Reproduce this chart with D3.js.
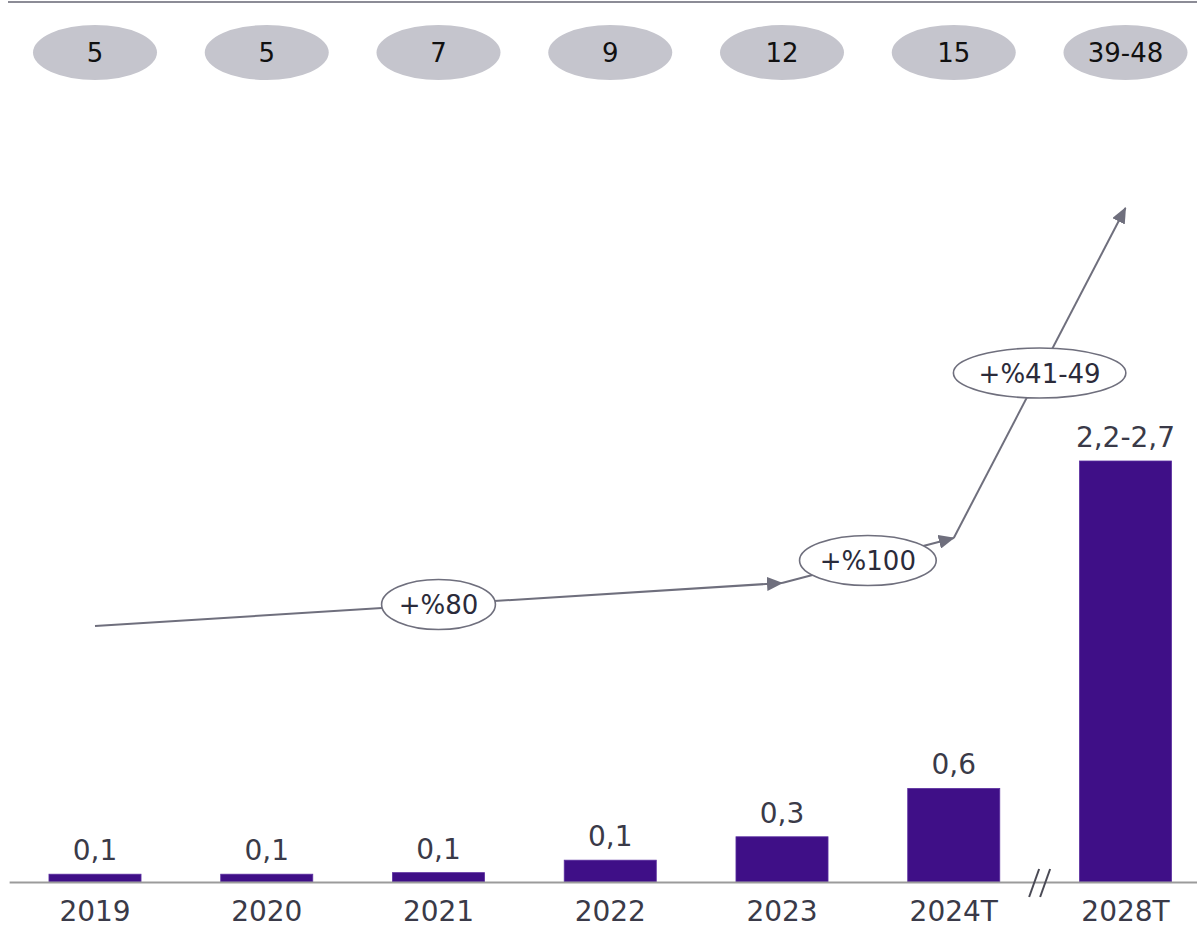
<!DOCTYPE html>
<html>
<head>
<meta charset="utf-8">
<script src="https://cdn.jsdelivr.net/npm/d3@7/dist/d3.min.js"></script>
<style>
  html, body { margin: 0; padding: 0; background: #ffffff; }
  svg { display: block; }
</style>
</head>
<body>
<svg id="chart" width="1197" height="927"></svg>
<script>
// ---- data ----
const categories = ["2019", "2020", "2021", "2022", "2023", "2024T", "2028T"];
// bar heights (2028T is a forecast range; the bar reaches the upper bound)
const barValues = [0.05, 0.05, 0.06, 0.14, 0.29, 0.6, 2.7];
const rangeLow = [null, null, null, null, null, null, 2.2];
// counts shown in the grey pills above each year
const topCounts = ["5", "5", "7", "9", "12", "15", "39-48"];
// growth callouts along the trend arrow
const growthLabels = ["+%80", "+%100", "+%41-49"];
const trendStops = ["2019", "2023", "2024T", "2028T"];

// ---- layout ----
const W = 1197, H = 927;
const baseY = 882, topBarY = 461;
const trendY = [626, 583, 538, 208];      // vertical placement of the trend arrow stops
const colors = {
  bar: "#3f0f87",
  barEdge: "#5b2fa0",
  pill: "#c5c5cd",
  rule: "#8c8c96",
  axis: "#9b9b9b",
  text: "#3a3a48",
  trend: "#6f6f7d"
};
const font = "'DejaVu Sans', Verdana, sans-serif";

const svg = d3.select("#chart");

const step = 171.75;
const x = d3.scaleBand()
  .domain(categories)
  .range([95 - step / 2, 95 + step * (categories.length - 0.5)])
  .paddingInner(0.464)
  .paddingOuter(0.232);
const cx = c => x(c) + x.bandwidth() / 2;

const y = d3.scaleLinear()
  .domain([0, d3.max(barValues)])
  .range([baseY, topBarY]);

const fmt = d3.formatLocale({ decimal: ",", thousands: ".", grouping: [3], currency: ["", ""] }).format(".1f");

// top rule
svg.append("line")
  .attr("x1", 8).attr("x2", W)
  .attr("y1", 2).attr("y2", 2)
  .attr("stroke", colors.rule).attr("stroke-width", 2);

// grey pills with counts
const pills = svg.append("g").selectAll("g")
  .data(categories)
  .join("g")
  .attr("transform", d => `translate(${cx(d)},52.5)`);
pills.append("ellipse")
  .attr("rx", 62).attr("ry", 27.5)
  .attr("fill", colors.pill);
pills.append("text")
  .attr("text-anchor", "middle")
  .attr("y", 9.5)
  .attr("font-family", font)
  .attr("font-size", 26)
  .attr("fill", "#111111")
  .text((d, i) => topCounts[i]);

// bars
svg.append("g").selectAll("rect")
  .data(categories)
  .join("rect")
  .attr("x", d => x(d))
  .attr("width", x.bandwidth())
  .attr("y", (d, i) => y(barValues[i]))
  .attr("height", (d, i) => y(0) - y(barValues[i]))
  .attr("fill", colors.bar)
  .attr("stroke", colors.barEdge)
  .attr("stroke-width", 0.8);

// value labels
svg.append("g").selectAll("text")
  .data(categories)
  .join("text")
  .attr("x", d => cx(d))
  .attr("y", (d, i) => y(barValues[i]) - 14)
  .attr("text-anchor", "middle")
  .attr("font-family", font)
  .attr("font-size", 28)
  .attr("fill", colors.text)
  .text((d, i) => rangeLow[i] != null
    ? `${fmt(rangeLow[i])}-${fmt(barValues[i])}`
    : fmt(barValues[i]));

// x axis
const axis = svg.append("g")
  .attr("transform", `translate(0,${baseY})`)
  .call(d3.axisBottom(x).tickSize(0).tickSizeOuter(0));
axis.select(".domain")
  .attr("stroke", colors.axis)
  .attr("stroke-width", 2);
axis.selectAll("text")
  .attr("y", 39)
  .attr("dy", 0)
  .attr("font-family", font)
  .attr("font-size", 28)
  .attr("fill", colors.text);

// axis break between the last two years
const breakX = (x("2024T") + x.bandwidth() + x("2028T")) / 2;
svg.append("g").selectAll("line")
  .data([-5.5, 5.5])
  .join("line")
  .attr("x1", d => breakX + d - 5)
  .attr("x2", d => breakX + d + 5)
  .attr("y1", baseY + 15)
  .attr("y2", baseY - 13)
  .attr("stroke", "#4a4a55")
  .attr("stroke-width", 2);

// trend arrow
const defs = svg.append("defs");
defs.append("marker")
  .attr("id", "arrowhead")
  .attr("markerUnits", "userSpaceOnUse")
  .attr("viewBox", "0 0 16 14")
  .attr("markerWidth", 16).attr("markerHeight", 14)
  .attr("refX", 15).attr("refY", 7)
  .attr("orient", "auto")
  .append("path")
  .attr("d", "M0,0L16,7L0,14Z")
  .attr("fill", colors.trend);

const stops = trendStops.map((c, i) => ({ x: cx(c), y: trendY[i] }));
const segments = d3.range(stops.length - 1).map(i => ({
  a: stops[i], b: stops[i + 1], label: growthLabels[i]
}));

const trend = svg.append("g");
trend.selectAll("line")
  .data(segments)
  .join("line")
  .attr("x1", d => d.a.x).attr("y1", d => d.a.y)
  .attr("x2", d => d.b.x).attr("y2", d => d.b.y)
  .attr("stroke", colors.trend)
  .attr("stroke-width", 2)
  .attr("marker-end", "url(#arrowhead)");

const callouts = trend.selectAll("g")
  .data(segments)
  .join("g")
  .attr("transform", d => `translate(${(d.a.x + d.b.x) / 2},${(d.a.y + d.b.y) / 2})`);
const callEll = callouts.append("ellipse")
  .attr("ry", 25)
  .attr("fill", "#ffffff")
  .attr("stroke", colors.trend)
  .attr("stroke-width", 1.6);
const callText = callouts.append("text")
  .attr("text-anchor", "middle")
  .attr("y", 9.5)
  .attr("font-family", font)
  .attr("font-size", 26)
  .attr("fill", "#2b2b3a")
  .text(d => d.label);
callText.each(function (d) { d.tw = this.getComputedTextLength(); });
callEll.attr("rx", d => d.tw * 0.69 + 2);
</script>
</body>
</html>
